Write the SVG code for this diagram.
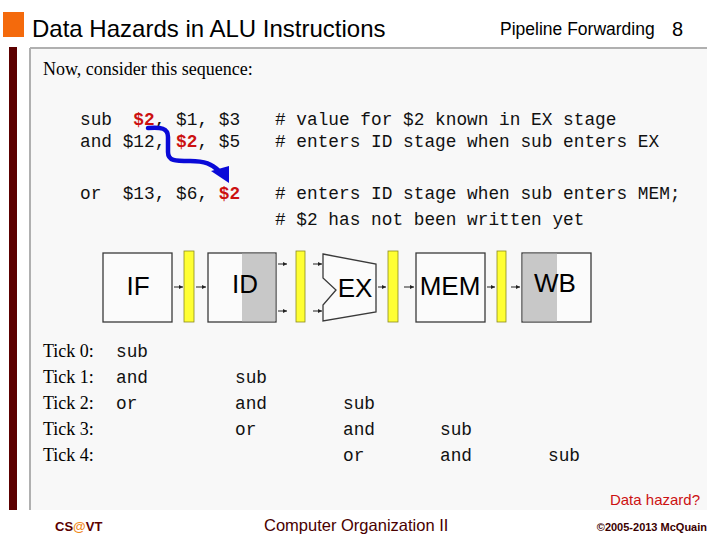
<svg xmlns="http://www.w3.org/2000/svg" width="720" height="540" viewBox="0 0 720 540">
<style>
.sans{font-family:"Liberation Sans",Arial,sans-serif}
.serif{font-family:"Liberation Serif","Times New Roman",serif;font-size:18px;fill:#000}
.mono{font-family:"Liberation Mono","Courier New",monospace;font-size:17.8px;fill:#111;white-space:pre}
.red{fill:#cc1111;font-weight:bold}
.box{fill:#fbfbfb;stroke:#3a3a3a;stroke-width:1.3}
.shade{fill:#c8c8c8}
.latch{fill:#ffff33;stroke:#8a8a20;stroke-width:0.8}
.lbl{font-family:"Liberation Sans",Arial,sans-serif;font-size:26px;fill:#000;text-anchor:middle}
.wire{stroke:#222;stroke-width:1;fill:none;marker-end:url(#ah)}
</style>
<defs>
<marker id="ah" viewBox="0 0 6 6" refX="6" refY="3" markerWidth="4" markerHeight="4" markerUnits="userSpaceOnUse" orient="auto"><path d="M0,0 L6,3 L0,6 z" fill="#222"/></marker>
</defs>
<rect width="720" height="540" fill="#fff"/>
<g id="frame">
<rect x="3" y="12" width="21" height="25" fill="#f46a0c"/>
<rect x="9" y="47" width="8" height="463" fill="#5c0000"/>
<rect x="30" y="48" width="677" height="462" fill="#f8f8f8"/>
<line x1="30" y1="48" x2="707" y2="48" stroke="#b0b0b0" stroke-width="2"/>
<line x1="30" y1="48" x2="30" y2="510" stroke="#b0b0b0" stroke-width="2"/>
</g>
<g id="title">
<text x="32" y="37" class="sans" font-size="24" fill="#000">Data Hazards in ALU Instructions</text>
<text x="500" y="35" class="sans" font-size="17.5" fill="#000">Pipeline Forwarding</text>
<text x="672" y="36" class="sans" font-size="20" fill="#000">8</text>
</g>
<g id="code">
<text x="43" y="75" class="serif">Now, consider this sequence:</text>
<text x="80" y="125" class="mono">sub  <tspan class="red">$2</tspan>, $1, $3</text>
<text x="80" y="147" class="mono">and $12, <tspan class="red">$2</tspan>, $5</text>
<text x="80" y="199" class="mono">or  $13, $6, <tspan class="red">$2</tspan></text>
<text x="275" y="125" class="mono"># value for $2 known in EX stage</text>
<text x="275" y="147" class="mono"># enters ID stage when sub enters EX</text>
<text x="275" y="199" class="mono"># enters ID stage when sub enters MEM;</text>
<text x="275" y="225" class="mono"># $2 has not been written yet</text>
</g>
<g id="forward-arrow">
<path d="M148,128 C161,127 168,128 168,137 L168,152 C168,161 175,161 190,161 C205,161 212,164 219,171" fill="none" stroke="#0a0ad8" stroke-width="4.5" stroke-linecap="round"/>
<polygon points="211,171 229,166 229,183" fill="#0a0ad8"/>
</g>
<g id="IF">
<rect x="103" y="253" width="69" height="69" class="box"/>
<text x="138" y="295" class="lbl">IF</text>
</g>
<g id="latch1"><rect x="184" y="251" width="10" height="71" class="latch"/></g>
<g id="ID">
<rect x="208" y="253" width="68" height="69" class="box"/>
<rect x="242" y="253.7" width="33.3" height="67.6" class="shade"/>
<text x="245" y="293" class="lbl">ID</text>
</g>
<g id="latch2"><rect x="296" y="251" width="9" height="71" class="latch"/></g>
<g id="EX">
<path d="M323,254 L376,264 L376,312 L323,321 L323,305 L336,290 L323,278 Z" class="box"/>
<text x="355" y="297" class="lbl">EX</text>
</g>
<g id="latch3"><rect x="388" y="251" width="10" height="71" class="latch"/></g>
<g id="MEM">
<rect x="416" y="253" width="69" height="69" class="box"/>
<text x="450" y="295" class="lbl">MEM</text>
</g>
<g id="latch4"><rect x="497" y="251" width="9" height="71" class="latch"/></g>
<g id="WB">
<rect x="522" y="253" width="69" height="69" class="box"/>
<rect x="522.7" y="253.7" width="34.3" height="67.6" class="shade"/>
<text x="555" y="292" class="lbl">WB</text>
</g>
<g id="connectors">
<line x1="174" y1="287" x2="183" y2="287" class="wire"/>
<line x1="196" y1="287" x2="206" y2="287" class="wire"/>
<line x1="278" y1="264" x2="287" y2="264" class="wire"/>
<line x1="278" y1="311" x2="287" y2="311" class="wire"/>
<line x1="313" y1="264" x2="322" y2="264" class="wire"/>
<line x1="313" y1="311" x2="322" y2="311" class="wire"/>
<line x1="378" y1="287" x2="386" y2="287" class="wire"/>
<line x1="404" y1="287" x2="414" y2="287" class="wire"/>
<line x1="487" y1="287" x2="495" y2="287" class="wire"/>
<line x1="511" y1="287" x2="520" y2="287" class="wire"/>
</g>
<g id="ticks">
<text x="43" y="357" class="serif">Tick 0:</text>
<text x="43" y="383" class="serif">Tick 1:</text>
<text x="43" y="409" class="serif">Tick 2:</text>
<text x="43" y="435" class="serif">Tick 3:</text>
<text x="43" y="461" class="serif">Tick 4:</text>
<text x="116" y="357" class="mono">sub</text>
<text x="116" y="383" class="mono">and</text>
<text x="116" y="409" class="mono">or</text>
<text x="235" y="383" class="mono">sub</text>
<text x="235" y="409" class="mono">and</text>
<text x="235" y="435" class="mono">or</text>
<text x="343" y="409" class="mono">sub</text>
<text x="343" y="435" class="mono">and</text>
<text x="343" y="461" class="mono">or</text>
<text x="440" y="435" class="mono">sub</text>
<text x="440" y="461" class="mono">and</text>
<text x="548" y="461" class="mono">sub</text>
</g>
<g id="footer">
<text x="700" y="505" class="sans" font-size="15" fill="#cc1111" text-anchor="end">Data hazard?</text>
<text x="55" y="531" class="sans" font-size="13" font-weight="bold" fill="#5c0000">CS<tspan fill="#f08a1c">@</tspan>VT</text>
<text x="264" y="531" class="sans" font-size="16.5" fill="#4a0000">Computer Organization II</text>
<text x="707" y="531" class="sans" font-size="11" font-weight="bold" fill="#3a0000" text-anchor="end">©2005-2013 McQuain</text>
</g>
</svg>
